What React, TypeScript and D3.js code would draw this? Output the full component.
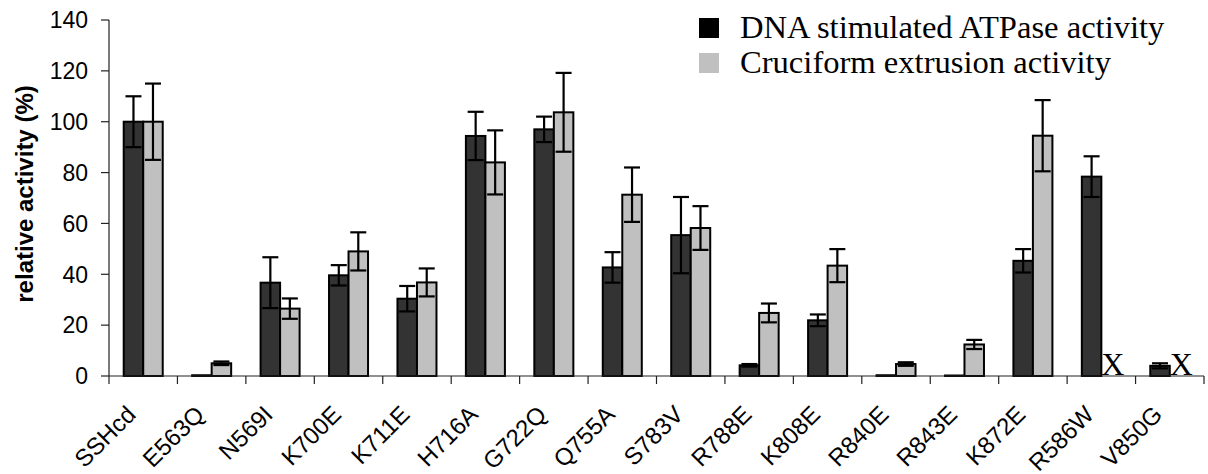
import React from "react";
import * as d3 from "d3";

const categories = ["SSHcd", "E563Q", "N569I", "K700E", "K711E", "H716A", "G722Q", "Q755A", "S783V", "R788E", "K808E", "R840E", "R843E", "K872E", "R586W", "V850G"];
const atpase = [100, 0.3, 36.7, 39.6, 30.4, 94.4, 97, 42.7, 55.4, 4.2, 21.9, 0.3, 0.2, 45.3, 78.4, 4];
const atpaseErr = [10, 0, 10, 4, 5, 9.5, 5, 6, 15, 0.5, 2.3, 0, 0, 4.6, 8, 1];
const cruciform: (number | null)[] = [100, 5, 26.5, 49, 36.8, 84, 103.7, 71.3, 58.2, 24.8, 43.4, 4.7, 12.4, 94.5, null, null];
const cruciformErr: (number | null)[] = [15, 0.7, 4, 7.5, 5.5, 12.6, 15.5, 10.7, 8.6, 3.7, 6.5, 0.7, 1.8, 14, null, null];
const yTicks = [0, 20, 40, 60, 80, 100, 120, 140];
const seriesNames = ["DNA stimulated ATPase activity", "Cruciform extrusion activity"];
const seriesColors = ["#333333", "#c0c0c0"];
const legendColors = ["#000000", "#c0c0c0"];
const missingMark = "X";

const W = 1208;
const H = 474;
const left = 109;
const right = 1204;
const top = 20;
const bottom = 376;

export default function App() {
  const x = d3.scaleBand<string>().domain(categories).range([left, right]).paddingInner(0).paddingOuter(0);
  const y = d3.scaleLinear().domain([0, 140]).range([bottom, top]);
  const bw = x.bandwidth();
  const barW = bw * 0.285;
  const capHalf = 8;
  const sans = "Arial, 'Liberation Sans', sans-serif";
  const serif = "'Times New Roman', 'Liberation Serif', serif";

  const series = [
    { vals: atpase as (number | null)[], errs: atpaseErr as (number | null)[], off: -barW },
    { vals: cruciform, errs: cruciformErr, off: 0 },
  ];

  return (
    <svg width={W} height={H} style={{ position: "absolute", left: 0, top: 0, background: "#fff" }}>
      {/* bars */}
      {series.map((s, si) => (
        <g key={si}>
          {categories.map((c, i) => {
            const v = s.vals[i];
            const cx = (x(c) as number) + bw / 2;
            const bx = cx + s.off;
            if (v === null) {
              return (
                <text key={c} x={bx} y={bottom - 1} fontFamily={serif} fontSize={32} fill="#000">
                  {missingMark}
                </text>
              );
            }
            return (
              <rect key={c} x={bx} y={y(v)} width={barW} height={bottom - y(v)} fill={seriesColors[si]} stroke="#000" strokeWidth={2} />
            );
          })}
        </g>
      ))}
      {/* error bars */}
      {series.map((s, si) => (
        <g key={"e" + si} stroke="#000" strokeWidth={2.2}>
          {categories.map((c, i) => {
            const v = s.vals[i];
            const e = s.errs[i];
            if (v === null || e === null || e === 0) return null;
            const ex = (x(c) as number) + bw / 2 + s.off + barW / 2;
            return (
              <g key={c}>
                <line x1={ex} x2={ex} y1={y(v + e)} y2={y(v - e)} />
                <line x1={ex - capHalf} x2={ex + capHalf} y1={y(v + e)} y2={y(v + e)} />
                <line x1={ex - capHalf} x2={ex + capHalf} y1={y(v - e)} y2={y(v - e)} />
              </g>
            );
          })}
        </g>
      ))}
      {/* y axis */}
      <line x1={left} x2={left} y1={top} y2={bottom} stroke="#222" strokeWidth={1.2} />
      {yTicks.map((t) => (
        <g key={t}>
          <line x1={left - 8} x2={left} y1={y(t)} y2={y(t)} stroke="#222" strokeWidth={1.2} />
          <text x={88} y={y(t)} dy="0.36em" textAnchor="end" fontFamily={sans} fontSize={23} fill="#000">
            {t}
          </text>
        </g>
      ))}
      <text
        transform={`translate(33, 194) rotate(-90)`}
        textAnchor="middle"
        fontFamily={sans}
        fontWeight="bold"
        fontSize={24}
        fill="#000"
      >
        relative activity (%)
      </text>
      {/* x axis */}
      <line x1={left} x2={right} y1={bottom} y2={bottom} stroke="#222" strokeWidth={1.2} />
      {categories.map((c) => (
        <line key={"t" + c} x1={x(c) as number} x2={x(c) as number} y1={bottom} y2={bottom + 8} stroke="#222" strokeWidth={1.2} />
      ))}
      <line x1={right} x2={right} y1={bottom} y2={bottom + 8} stroke="#222" strokeWidth={1.2} />
      {categories.map((c) => {
        const cx = (x(c) as number) + bw / 2;
        return (
          <text
            key={"l" + c}
            transform={`translate(${cx - 6}, ${bottom + 40}) rotate(-45)`}
            textAnchor="end"
            fontFamily={sans}
            fontSize={24}
            fill="#000"
          >
            {c}
          </text>
        );
      })}
      {/* legend */}
      {seriesNames.map((n, i) => (
        <g key={n}>
          <rect x={699} y={18 + i * 35} width={20} height={20} fill={legendColors[i]} />
          <text x={740} y={38 + i * 35} fontFamily={serif} fontSize={32.6} fill="#000">
            {n}
          </text>
        </g>
      ))}
    </svg>
  );
}
